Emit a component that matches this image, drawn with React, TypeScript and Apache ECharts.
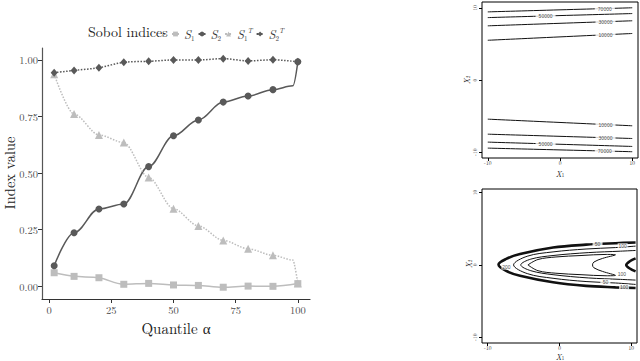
import React, { useEffect, useRef } from "react";
import * as echarts from "echarts";

// ---------- main panel data ----------
const ALPHA = [2, 10, 20, 30, 40, 50, 60, 70, 80, 90, 100];
const S1 = [0.06, 0.044, 0.038, 0.009, 0.013, 0.006, 0.004, -0.004, 0.001, 0.0, 0.012];
const S2 = [0.091, 0.237, 0.342, 0.364, 0.529, 0.665, 0.735, 0.814, 0.841, 0.869, 0.992];
const S1T = [0.937, 0.761, 0.669, 0.635, 0.481, 0.343, 0.267, 0.203, 0.166, 0.137, 0.012];
const S2T = [0.944, 0.954, 0.966, 0.99, 0.994, 1.0, 1.0, 1.006, 0.996, 1.001, 0.992];
// unmarked points (no marker drawn there)
const S2_EXTRA = [[98, 0.886]];
const S1T_EXTRA = [[98, 0.116]];
const X_TICKS = [0, 25, 50, 75, 100];
const Y_TICKS = [0, 0.25, 0.5, 0.75, 1];

// ---------- top-right contour panel ----------
const TOP_LEVELS = ["70000", "50000", "30000", "10000"];
const TOP_UPPER = [[9.43, 10.0], [8.64, 9.2], [7.5, 8.2], [5.5, 6.44]]; // y at x1=-10, x1=10
const TOP_LOWER = [[-9.43, -9.93], [-8.6, -9.2], [-7.5, -8.1], [-5.42, -6.34]];
const TOP_LABEL_X = [6.2, -2, 6.3, 6.3];
const PANEL_TICKS = [-10, 0, 10];

// ---------- bottom-right contour panel ----------
const BOT_C1 = [[10.6, 3.1], [7.8, 3.0], [3.7, 2.8], [-0.9, 2.4], [-5.5, 1.5], [-7.5, 0.8], [-8.5, 0.05], [-7.5, -0.8], [-5.5, -1.5], [-0.9, -2.4], [3.7, -2.9], [7.8, -3.1], [10.6, -3.2]];
const BOT_C2 = [[10.6, 2.6], [7.8, 2.4], [3.7, 2.2], [-0.9, 1.8], [-4.5, 1.2], [-6.4, 0], [-4.5, -1.2], [-0.9, -1.85], [3.7, -2.3], [7.8, -2.5], [10.6, -2.7]];
const BOT_C3 = [[10.6, 2.0], [8.5, 1.9], [4, 1.7], [-0.9, 1.3], [-4, 0.8], [-5.4, 0], [-4, -0.8], [-0.9, -1.35], [4, -1.8], [8.5, -2.0], [10.6, -2.1]];
const BOT_C4 = [[-4.4, 0], [-3, 0.75], [-0.5, 1.1], [3, 1.3], [6.5, 1.45], [7.8, 1.4], [6, 0.9], [4.8, 0.4], [4.6, 0], [4.8, -0.4], [6, -0.9], [7.8, -1.45], [6.5, -1.5], [3, -1.35], [-0.5, -1.15], [-3, -0.8], [-4.4, 0]];
const BOT_C5 = [[10.6, 0.9], [9.8, 0.5], [9.3, 0], [9.8, -0.5], [10.6, -0.9]];
const BOT_LABELS = [
  { name: "50", at: [5.3, 2.9] },
  { name: "100", at: [8.8, 2.65] },
  { name: "200", at: [-7.4, -0.3] },
  { name: "100", at: [8.7, -1.25] },
  { name: "50", at: [6.4, -2.35] },
  { name: "100", at: [9.0, -3.05] },
];

const SERIF = "'Latin Modern Roman', 'Liberation Serif', 'DejaVu Serif', serif";
const DARK = "#595959";
const LIGHT = "#bdbdbd";

function merge(xs: number[], ys: number[], extra: number[][]) {
  const pts: any[] = xs.map((x, i) => ({ value: [x, ys[i]] }));
  extra.forEach((p) => pts.push({ value: p, symbol: "none" }));
  pts.sort((a, b) => a.value[0] - b.value[0]);
  return pts;
}

const LEGEND_TEXT: Record<string, string> = {
  S1: "{s|S}{sub|1}",
  S2: "{s|S}{sub|2}",
  S1T: "{s|S}{sub|1}{sup|T}",
  S2T: "{s|S}{sub|2}{sup|T}",
};

const subLabel = (n: string) => ({
  text: `{i|X}{s|${n}}`,
  align: "center",
  verticalAlign: "middle",
  rich: {
    i: { fontStyle: "italic", fontSize: 8, fontFamily: SERIF, fill: "#111" },
    s: { fontSize: 5, fontFamily: SERIF, fill: "#111", verticalAlign: "bottom" },
  },
});

export default function App() {
  const ref = useRef<HTMLDivElement>(null);
  useEffect(() => {
    if (!ref.current) return;
    const chart = echarts.init(ref.current, undefined, { renderer: "svg" });

    const panelX = (gridIndex: number) => ({
      type: "value",
      gridIndex,
      min: -10.8,
      max: 10.8,
      axisLine: { show: false, onZero: false },
      axisTick: { show: true, length: 3, customValues: PANEL_TICKS, lineStyle: { color: "#000" } },
      axisLabel: { customValues: PANEL_TICKS, fontSize: 5.5, color: "#333", fontFamily: SERIF, margin: 2 },
      splitLine: { show: false },
    });
    const panelY = (gridIndex: number, min: number, max: number) => ({
      type: "value",
      gridIndex,
      min,
      max,
      axisLine: { show: false, onZero: false },
      axisTick: { show: true, length: 3, customValues: PANEL_TICKS, lineStyle: { color: "#000" } },
      axisLabel: { customValues: PANEL_TICKS, fontSize: 5.5, color: "#333", fontFamily: SERIF, margin: 4, rotate: 90 },
      splitLine: { show: false },
    });

    const contourLine = (data: number[][], xi: number, width = 1) => ({
      type: "line",
      xAxisIndex: xi,
      yAxisIndex: xi,
      data,
      showSymbol: false,
      symbol: "none",
      smooth: 0.35,
      lineStyle: { color: "#111", width },
      silent: true,
      z: 2,
    });

    const topSeries: any[] = [];
    const topLabels: any[] = [];
    [TOP_UPPER, TOP_LOWER].forEach((group) => {
      group.forEach((ends, i) => {
        topSeries.push(contourLine([[-10, ends[0]], [10, ends[1]]], 1));
        const lx = TOP_LABEL_X[i];
        const ly = ends[0] + ((lx + 10) / 20) * (ends[1] - ends[0]);
        topLabels.push({ name: TOP_LEVELS[i], value: [lx, ly] });
      });
    });

    const labelSeries = (data: any[], xi: number, w: number) => ({
      type: "scatter",
      xAxisIndex: xi,
      yAxisIndex: xi,
      data,
      symbol: "rect",
      symbolSize: [w, 5],
      itemStyle: { color: "#fff" },
      label: {
        show: true,
        position: "inside",
        formatter: "{b}",
        fontSize: 5,
        color: "#111",
        fontFamily: "'Liberation Sans', sans-serif",
      },
      silent: true,
      z: 3,
    });

    const option: any = {
      animation: false,
      backgroundColor: "#fff",
      grid: [
        { left: 42, top: 48, width: 268, height: 251 },
        { left: 482, top: 2, width: 156, height: 156, show: true, borderColor: "#000", borderWidth: 1, backgroundColor: "transparent" },
        { left: 482, top: 189, width: 155, height: 154, show: true, borderColor: "#000", borderWidth: 1, backgroundColor: "transparent" },
      ],
      xAxis: [
        {
          type: "value",
          gridIndex: 0,
          min: -2.9,
          max: 104.9,
          axisLine: { show: true, onZero: false, lineStyle: { color: "#333", width: 1.2 } },
          axisTick: { show: true, length: 4, customValues: X_TICKS, lineStyle: { color: "#333" } },
          axisLabel: { customValues: X_TICKS, color: "#4d4d4d", fontSize: 10.5, fontFamily: SERIF, margin: 5 },
          splitLine: { show: false },
        },
        panelX(1),
        panelX(2),
      ],
      yAxis: [
        {
          type: "value",
          gridIndex: 0,
          min: -0.056,
          max: 1.053,
          axisLine: { show: true, onZero: false, lineStyle: { color: "#555", width: 1.2 } },
          axisTick: { show: true, length: 4, customValues: Y_TICKS, lineStyle: { color: "#333" } },
          axisLabel: {
            customValues: Y_TICKS,
            color: "#4d4d4d",
            fontSize: 10.5,
            fontFamily: SERIF,
            margin: 4,
            formatter: (v: number) => v.toFixed(2),
          },
          splitLine: { show: false },
        },
        panelY(1, -10.8, 10.8),
        panelY(2, -10.8, 10.5),
      ],
      legend: {
        data: ["S1", "S2", "S1T", "S2T"],
        left: 166,
        top: 20,
        itemWidth: 7,
        itemHeight: 6,
        itemGap: 3,
        formatter: (n: string) => LEGEND_TEXT[n],
        textStyle: {
          fontFamily: SERIF,
          fontSize: 12,
          color: "#333",
          lineHeight: 18,
          rich: {
            s: { fontStyle: "italic", fontSize: 12.5, fontFamily: SERIF, color: "#333" },
            sub: { fontSize: 7, fontFamily: SERIF, color: "#333", verticalAlign: "bottom", padding: [0, 0, 2, 0] },
            sup: { fontSize: 7, fontStyle: "italic", fontFamily: SERIF, color: "#333", verticalAlign: "top", padding: [1, 0, 0, 0] },
          },
        },
      },
      graphic: [
        { type: "text", left: 88, top: 24, style: { text: "Sobol indices", font: `14px ${SERIF}`, fill: "#222" } },
        {
          type: "text",
          x: 9,
          y: 173,
          rotation: Math.PI / 2,
          style: { text: "Index value", font: `14.5px ${SERIF}`, fill: "#222", align: "center", verticalAlign: "middle" },
        },
        {
          type: "text",
          x: 176,
          y: 327,
          style: { text: "Quantile α", font: `15px ${SERIF}`, fill: "#222", align: "center", verticalAlign: "middle" },
        },
        { type: "text", x: 560, y: 173, style: subLabel("1") },
        { type: "text", x: 466, y: 80, rotation: Math.PI / 2, style: subLabel("2") },
        { type: "text", x: 560, y: 356, style: subLabel("1") },
        { type: "text", x: 468, y: 264, rotation: Math.PI / 2, style: subLabel("2") },
      ],
      series: [
        {
          type: "line",
          name: "S1",
          data: merge(ALPHA, S1, []),
          smooth: 0.35,
          symbol: "rect",
          symbolSize: 7,
          lineStyle: { color: LIGHT, width: 1.5 },
          itemStyle: { color: LIGHT },
        },
        {
          type: "line",
          name: "S2",
          data: merge(ALPHA, S2, S2_EXTRA),
          smooth: 0.35,
          smoothMonotone: "x",
          symbol: "circle",
          symbolSize: 7,
          lineStyle: { color: DARK, width: 1.5 },
          itemStyle: { color: DARK },
        },
        {
          type: "line",
          name: "S1T",
          data: merge(ALPHA, S1T, S1T_EXTRA),
          smooth: 0.3,
          smoothMonotone: "x",
          symbol: "triangle",
          symbolSize: 8,
          lineStyle: { color: LIGHT, width: 1.5, type: "dotted" },
          itemStyle: { color: LIGHT },
        },
        {
          type: "line",
          name: "S2T",
          data: merge(ALPHA, S2T, []),
          smooth: 0.3,
          symbol: "diamond",
          symbolSize: [7, 8],
          lineStyle: { color: DARK, width: 1.5, type: "dotted" },
          itemStyle: { color: DARK },
        },
        ...topSeries,
        labelSeries(topLabels, 1, 20),
        contourLine(BOT_C1, 2, 2.6),
        contourLine(BOT_C2, 2, 1),
        contourLine(BOT_C3, 2, 1),
        contourLine(BOT_C4, 2, 1),
        contourLine(BOT_C5, 2, 2.6),
        labelSeries(BOT_LABELS.map((l) => ({ name: l.name, value: l.at })), 2, 10),
      ],
    };
    chart.setOption(option);
    return () => chart.dispose();
  }, []);
  return <div ref={ref} style={{ width: 640, height: 361, position: "absolute", left: 0, top: 0 }} />;
}
